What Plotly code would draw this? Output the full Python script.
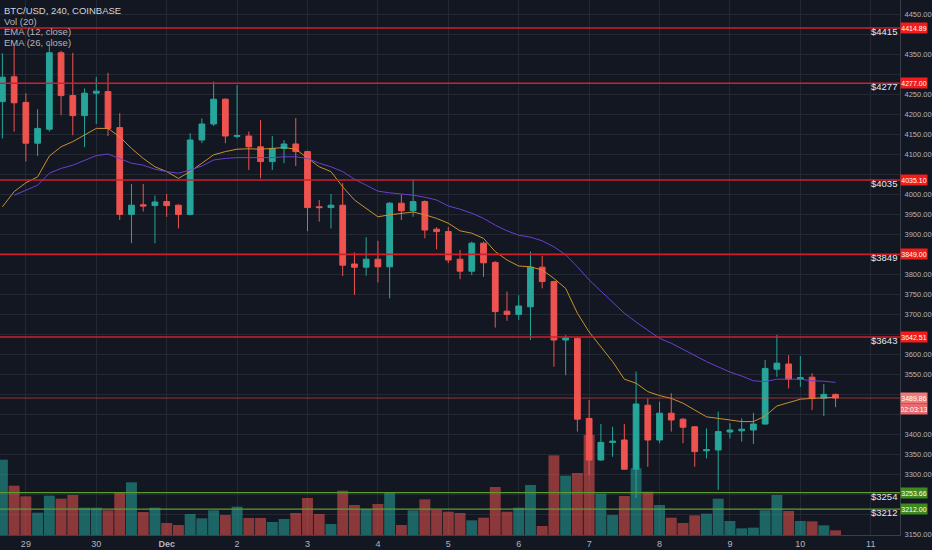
import pandas as pd
import plotly.graph_objects as go

# 4h candles, BTC/USD Coinbase, first candle 2018-11-28 16:00
opens = [4231, 4293, 4229, 4127, 4162, 4353, 4246, 4196, 4252, 4256, 4166, 3949,
         3973, 3971, 3981, 3972, 3949, 4135, 4175, 4237, 4144, 4145, 4118, 4081,
         4114, 4125, 4106, 3968, 3966, 3972, 3825, 3817, 3837, 3818, 3977, 3958,
         3981, 3912, 3906, 3837, 3807, 3877, 3829, 3707, 3699, 3718, 3817, 3781,
         3635, 3639, 3439, 3335, 3379, 3385, 3312, 3472, 3385, 3452, 3437, 3418,
         3358, 3360, 3405, 3408, 3410, 3425, 3562, 3575, 3537, 3542, 3489, 3499]
highs = [4352, 4372, 4252, 4212, 4378, 4358, 4353, 4264, 4293, 4303, 4202, 4025,
         4025, 3996, 4000, 3974, 4152, 4189, 4281, 4239, 4272, 4156, 4185, 4145,
         4135, 4190, 4108, 3985, 4000, 4027, 3854, 3892, 3883, 3980, 3998, 4037,
         3984, 3917, 3918, 3860, 3881, 3881, 3832, 3756, 3747, 3856, 3845, 3783,
         3647, 3642, 3485, 3425, 3418, 3425, 3556, 3489, 3481, 3502, 3440, 3420,
         3414, 3456, 3427, 3439, 3453, 3585, 3648, 3597, 3595, 3552, 3525, 3501]
lows = [4139, 4156, 4081, 4095, 4156, 4197, 4147, 4117, 4175, 4145, 3935, 3877,
        3956, 3877, 3943, 3914, 3947, 4127, 4170, 4127, 4139, 4060, 4039, 4060,
        4077, 4070, 3907, 3931, 3914, 3795, 3748, 3796, 3779, 3739, 3935, 3943,
        3889, 3862, 3827, 3787, 3797, 3793, 3666, 3683, 3685, 3635, 3764, 3568,
        3547, 3406, 3297, 3333, 3343, 3312, 3240, 3318, 3377, 3406, 3377, 3318,
        3339, 3260, 3389, 3381, 3375, 3423, 3543, 3514, 3518, 3460, 3445, 3467]
closes = [4292, 4228, 4127, 4164, 4353, 4246, 4196, 4252, 4257, 4164, 3949, 3972,
          3970, 3980, 3971, 3949, 4135, 4175, 4237, 4145, 4146, 4118, 4081, 4114,
          4125, 4106, 3966, 3966, 3972, 3822, 3817, 3837, 3818, 3977, 3958, 3981,
          3910, 3906, 3835, 3807, 3877, 3828, 3706, 3699, 3720, 3817, 3781, 3635,
          3640, 3437, 3335, 3379, 3382, 3312, 3475, 3385, 3452, 3435, 3417, 3356,
          3361, 3406, 3410, 3412, 3425, 3564, 3577, 3537, 3541, 3489, 3499, 3490]
volumes = [4520, 2960, 2320, 1340, 2360, 2180, 2400, 1640, 1640, 1480, 2580, 3160,
           1380, 1640, 720, 600, 1260, 1000, 1480, 1200, 1700, 1020, 1020, 780,
           960, 1320, 2220, 1260, 660, 2660, 1800, 1560, 1860, 2540, 600, 1480,
           2140, 1500, 1400, 1320, 880, 1040, 2880, 1400, 1640, 3000, 540, 4780,
           3560, 3720, 6000, 2480, 1200, 2340, 4000, 2600, 1800, 1040, 720, 1180,
           1280, 2180, 840, 400, 440, 1480, 2400, 1440, 840, 820, 580, 280]
ema12 = [3968, 4006, 4028, 4043, 4095, 4118, 4131, 4147, 4164, 4164, 4143, 4114,
         4089, 4068, 4056, 4039, 4056, 4077, 4098, 4106, 4112, 4113, 4112, 4114,
         4116, 4112, 4090, 4068, 4056, 4018, 3985, 3964, 3943, 3948, 3952, 3955,
         3948, 3939, 3927, 3908, 3902, 3889, 3856, 3835, 3820, 3818, 3810, 3789,
         3764, 3702, 3655, 3618, 3581, 3537, 3527, 3506, 3496, 3489, 3477, 3460,
         3443, 3439, 3435, 3431, 3431, 3445, 3470, 3479, 3487, 3489, 3491, 3492]
ema26 = [None, 3997, 4010, 4022, 4052, 4064, 4072, 4085, 4096, 4100, 4089, 4077,
         4072, 4062, 4056, 4052, 4060, 4070, 4085, 4089, 4091, 4091, 4091, 4091,
         4093, 4093, 4089, 4077, 4068, 4056, 4037, 4022, 4007, 4003, 4000, 3997,
         3992, 3985, 3970, 3962, 3952, 3939, 3922, 3908, 3897, 3892, 3883, 3868,
         3848, 3818, 3785, 3757, 3728, 3702, 3680, 3660, 3639, 3627, 3612, 3595,
         3581, 3568, 3555, 3545, 3533, 3531, 3537, 3537, 3537, 3533, 3532, 3529]

red_levels = [4414.89, 4277.00, 4035.10, 3849.00, 3642.51]
green_levels = [3253.66, 3212.00]
last_price = 3489.86
countdown = "02:03:13"

price_ticks = list(range(3150, 4451, 50))

day_ticks = ["2018-11-29", "2018-11-30", "2018-12-01", "2018-12-02", "2018-12-03",
             "2018-12-04", "2018-12-05", "2018-12-06", "2018-12-07", "2018-12-08",
             "2018-12-09", "2018-12-10", "2018-12-11"]
day_labels = ["29", "30", "<b>Dec</b>", "2", "3", "4", "5", "6", "7", "8", "9", "10", "11"]

legend_lines = ["BTC/USD, 240, COINBASE", "Vol (20)", "EMA (12, close)", "EMA (26, close)"]

times = pd.date_range("2018-11-28 16:00", periods=len(opens), freq="4h")

BG = "#131722"
GRID = "#242833"
UP = "#26a69a"
DOWN = "#ef5350"
TXT = "#b2b5be"
NARROW = "Liberation Sans Narrow, Arial Narrow, Liberation Sans"

vol_colors = ["rgba(38,166,154,0.55)" if c >= o else "rgba(239,83,80,0.55)"
              for o, c in zip(opens, closes)]

fig = go.Figure()
fig.add_trace(go.Bar(x=times, y=volumes, marker_color=vol_colors, marker_line_width=0,
                     width=4 * 3600 * 1000 * 0.93, yaxis="y", showlegend=False,
                     hoverinfo="skip"))
fig.add_trace(go.Candlestick(x=times, open=opens, high=highs, low=lows, close=closes,
                             yaxis="y2", showlegend=False,
                             increasing=dict(line=dict(color=UP, width=1), fillcolor=UP),
                             decreasing=dict(line=dict(color=DOWN, width=1), fillcolor=DOWN)))
fig.add_trace(go.Scatter(x=times, y=ema12, mode="lines", yaxis="y2", showlegend=False,
                         line=dict(color="#c8912e", width=1)))
fig.add_trace(go.Scatter(x=times, y=ema26, mode="lines", yaxis="y2", showlegend=False,
                         line=dict(color="#6a3fcf", width=1)))

shapes = []
annots = []
box_prices = []
levels = [(v, "#d11f2c", "#f21c1c", 1.6) for v in red_levels] + \
         [(v, "#5c9e2e", "#3f8a1e", 1.2) for v in green_levels]
for v, lc, bc, lw in levels:
    box_prices.append(v)
    shapes.append(dict(type="line", xref="paper", x0=0, x1=1, yref="y2", y0=v, y1=v,
                       line=dict(color=lc, width=lw)))
    annots.append(dict(xref="paper", x=0.9967, xanchor="right", xshift=2, yref="y2", y=v,
                       yanchor="top", yshift=4, text="$%d" % round(v), showarrow=False,
                       font=dict(size=9.5, color="#e6e8ee", family="Liberation Sans")))
    annots.append(dict(xref="paper", x=1, xanchor="left", xshift=0, yref="y2", y=v,
                       text="%.2f" % v, showarrow=False, bgcolor=bc, width=26, height=10,
                       borderpad=0, font=dict(size=7, color="white", family=NARROW)))

# last price line + countdown
shapes.append(dict(type="line", xref="paper", x0=0, x1=1, yref="y2", y0=last_price,
                   y1=last_price, line=dict(color="rgba(239,83,80,0.55)", width=1)))
annots.append(dict(xref="paper", x=1, xanchor="left", xshift=0, yref="y2", y=last_price,
                   text="%.2f" % last_price, showarrow=False, bgcolor="#f07a7a", width=26,
                   height=10, borderpad=0, font=dict(size=7, color="white", family=NARROW)))
annots.append(dict(xref="paper", x=1, xanchor="left", xshift=0, yref="y2", y=last_price,
                   yshift=-11, text=countdown, showarrow=False, bgcolor="#e86a6a", width=26,
                   height=10, borderpad=0, font=dict(size=7, color="white", family=NARROW)))
box_prices += [last_price, last_price - 27.5]

# tick labels hidden where a price box covers them
tick_text = ["" if any(abs(t - b) < 24 for b in box_prices) else "%.2f" % t
             for t in price_ticks]

for i, t in enumerate(legend_lines):
    annots.append(dict(xref="paper", x=0, xanchor="left", xshift=2, yref="paper", y=1,
                       yanchor="top", yshift=-3 - i * 10.7, text=t, showarrow=False,
                       font=dict(size=9.5, color="#d1d4dc" if i == 0 else TXT)))

fig.update_layout(
    width=932, height=550,
    margin=dict(l=0, r=27, t=0, b=15),
    paper_bgcolor=BG, plot_bgcolor=BG,
    font=dict(family="Liberation Sans, Arial", color=TXT),
    boxgap=0.3,
    bargap=0.05,
    shapes=shapes, annotations=annots,
    xaxis=dict(type="date", range=["2018-11-28 15:11", "2018-12-11 09:58"],
               tickvals=day_ticks, ticktext=day_labels, tickfont=dict(size=9, color=TXT),
               showgrid=True, gridcolor=GRID, gridwidth=1, zeroline=False,
               showline=True, linecolor="#3a3e4a", ticks="",
               rangeslider=dict(visible=False), fixedrange=True),
    yaxis=dict(range=[0, 32100], visible=False, showgrid=False, zeroline=False),
    yaxis2=dict(overlaying="y", side="right", range=[3147.5, 4485],
                tickvals=price_ticks, ticktext=tick_text,
                showgrid=True, gridcolor=GRID, zeroline=False,
                showline=True, linecolor="#3a3e4a", ticks="", ticklabelstandoff=2,
                tickfont=dict(size=7.5, color=TXT, family=NARROW)),
)

fig.write_html("out.html", config={"displayModeBar": False},
               post_script="document.body.style.margin='0';")
